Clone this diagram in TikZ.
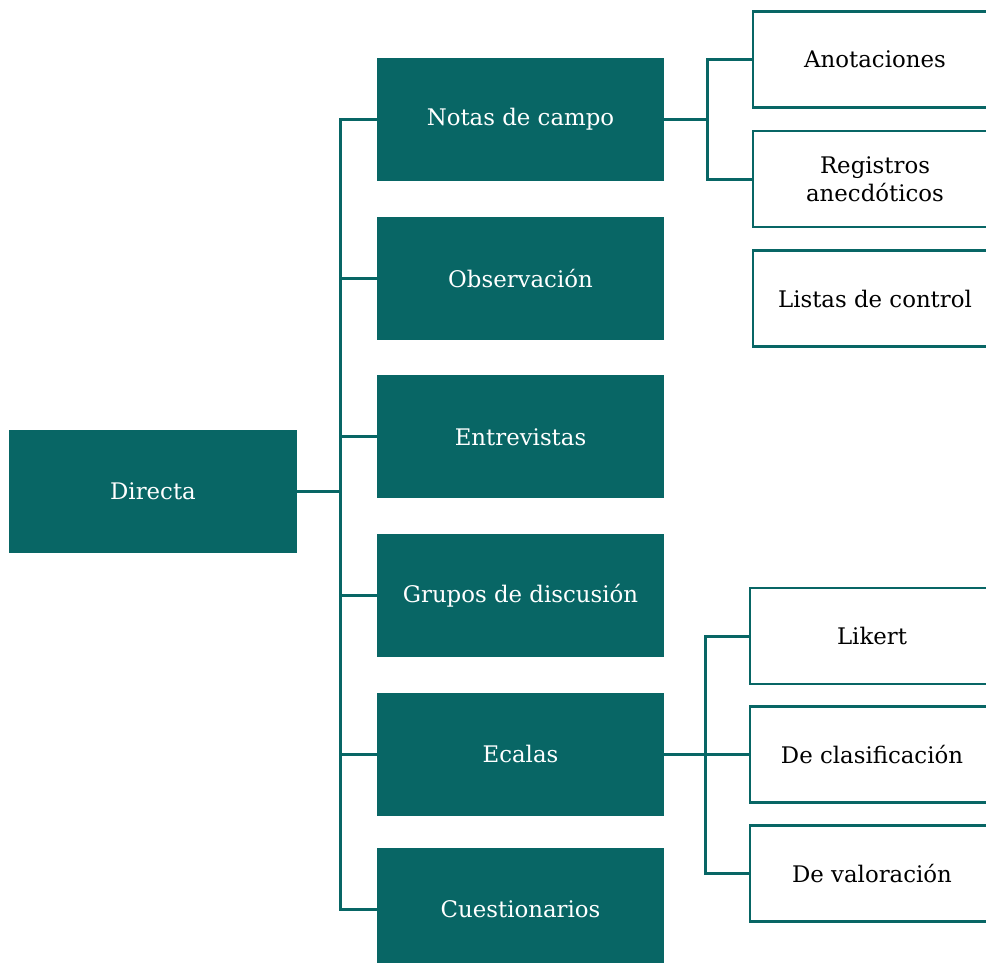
\documentclass[tikz,border=0pt]{standalone}
\usepackage{fontspec}
\setmainfont{DejaVu Serif}
\usetikzlibrary{positioning}
\definecolor{teal}{RGB}{8,102,101}

\begin{document}
\begin{tikzpicture}[
  main/.style={rectangle, fill=teal, text=white, minimum width=5.74cm, minimum height=2.46cm, align=center, font=\fontsize{13}{16}\selectfont},
  leaf/.style={rectangle, draw=teal, line width=1.5pt, fill=white, text=black, minimum width=4.88cm, minimum height=1.92cm, align=center, font=\fontsize{13}{16}\selectfont},
  link/.style={draw=teal, line width=1.7pt},
  node distance=0.7cm
]
\useasboundingbox (0,0) rectangle (19.72,-19.26);

% ======================
% ROOT
% ======================
\node[main, minimum width=5.76cm] (directa) at (3.06,-9.83) {Directa};

% ======================
% METHODS
% ======================
\node[main] (notas) at (10.41,-2.39) {Notas de campo};
\node[main, below=of notas] (observacion) {Observación};
\node[main, below=of observacion] (entrevistas) {Entrevistas};
\node[main, below=of entrevistas] (grupos) {Grupos de discusión};
\node[main, below=of grupos] (ecalas) {Ecalas};
\node[main, below=0.62cm of ecalas] (cuestionarios) {Cuestionarios};

% ======================
% FIELD NOTES
% ======================
\node[leaf] (anotaciones) at (17.5,-1.19) {Anotaciones};
\node[leaf, below=0.42cm of anotaciones] (registros) {Registros\\anecdóticos};
\node[leaf, below=0.42cm of registros] (listas) {Listas de control};

% ======================
% SCALES
% ======================
\node[leaf] (likert) at (17.44,-12.72) {Likert};
\node[leaf, below=0.4cm of likert] (clasificacion) {De clasificación};
\node[leaf, below=0.4cm of clasificacion] (valoracion) {De valoración};

% ======================
% LINKS
% ======================
\foreach \m in {notas, observacion, entrevistas, grupos, ecalas, cuestionarios}
  \draw[link] (directa.east) -- ++(0.86,0) |- (\m.west);

\draw[link] (notas.east) -- ++(0.86,0) |- (anotaciones.west);
\draw[link] (notas.east) -- ++(0.86,0) |- (registros.west);

\draw[link] (ecalas.east) -- ++(0.82,0) |- (likert.west);
\draw[link] (ecalas.east) -- (ecalas.east -| clasificacion.west);
\draw[link] (ecalas.east) -- ++(0.82,0) |- (valoracion.west);

\end{tikzpicture}
\end{document}
